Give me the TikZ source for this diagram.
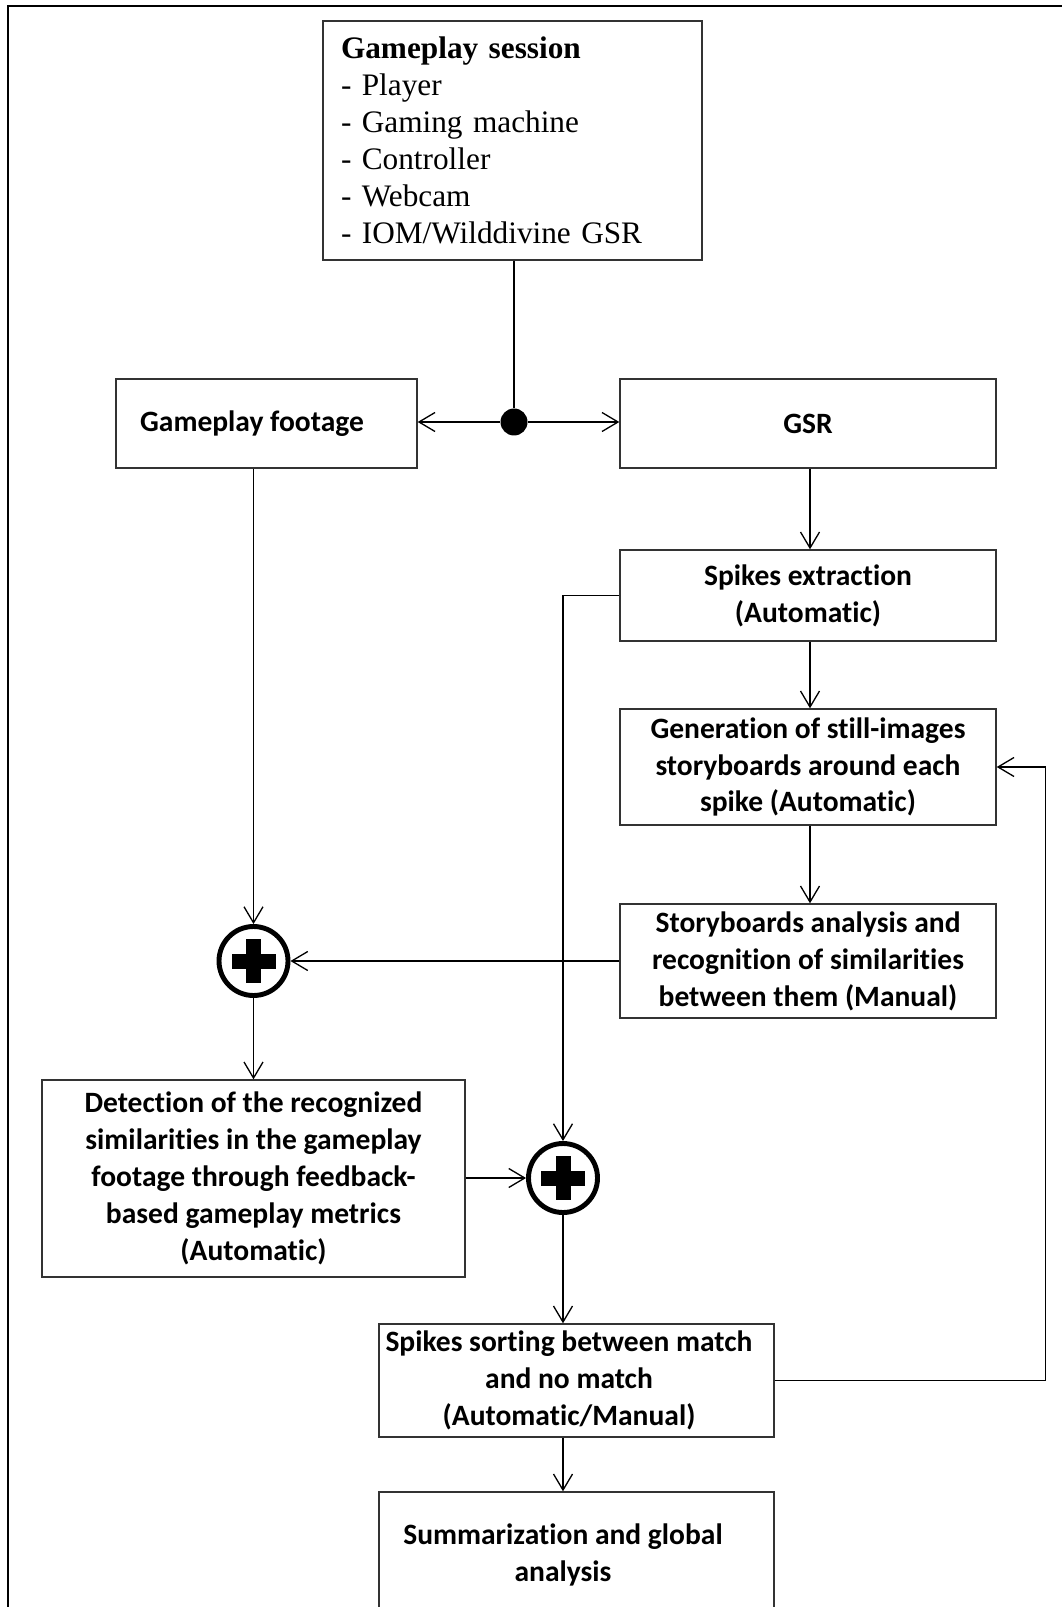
\documentclass[tikz,border=0pt]{standalone}
\usepackage{fontspec}
\setmainfont{Carlito}[Ligatures=NoCommon]
\newfontfamily\serifrm{Liberation Serif}
\usepackage{tikz}
\usetikzlibrary{positioning}
\usetikzlibrary{arrows.meta}

\begin{document}
\begin{tikzpicture}[
	boxnode/.style={rectangle, draw=black!80, line width=0.8pt, fill=white, align=center, inner sep=0pt,
		font=\fontsize{16.8}{21}\selectfont\bfseries},
	textnode/.style={align=center, inner sep=0pt, font=\fontsize{16.8}{21}\selectfont\bfseries},
	plusnode/.style={circle, draw=black, line width=2.8pt, fill=white, minimum size=1.38cm, inner sep=0pt,
		path picture={
			\fill[black] ([shift={(-0.44,-0.15)}]path picture bounding box.center) rectangle ([shift={(0.44,0.15)}]path picture bounding box.center);
			\fill[black] ([shift={(-0.15,-0.44)}]path picture bounding box.center) rectangle ([shift={(0.15,0.44)}]path picture bounding box.center);
		}},
	dotnode/.style={circle, fill=black, minimum size=0.54cm, inner sep=0pt},
	flow/.style={line width=0.75pt, -{Straight Barb[length=3.2mm,width=3.8mm,line width=0.75pt]}},
	]
	\useasboundingbox (0,0) rectangle (21.22,-32.14);
	%Frame
	\draw[line width=1.2pt] (0.16,-34) -- (0.16,-0.12) -- (23,-0.12);
	%Nodes
	\node[rectangle, draw=black!80, line width=0.8pt, align=left, text width=6.86cm, inner xsep=0.36cm, minimum height=4.78cm,
		font=\serifrm\fontsize{17.8}{21}\selectfont] (session) at (10.25,-2.81)
		{{\bfseries Gameplay session}\\- Player\\- Gaming machine\\- Controller\\- Webcam\\- IOM/Wilddivine GSR};
	\node[boxnode, minimum width=6.02cm, minimum height=1.78cm] (footage) at (5.33,-8.47) {Gameplay footage\hspace*{0.58cm}};
	\node[boxnode, minimum width=7.52cm, minimum height=1.78cm] (gsr) at (16.16,-8.47) {GSR};
	\node[dotnode] (split) at (10.28,-8.44) {};
	\node[boxnode, minimum width=7.52cm, minimum height=1.82cm] (spikes) at (16.16,-11.91) {Spikes extraction\\(Automatic)};
	\node[boxnode, minimum width=7.52cm, minimum height=2.32cm] (storyboard) at (16.16,-15.34)
		{Generation of still-images\\storyboards around each\\spike (Automatic)};
	\node[boxnode, minimum width=7.52cm, minimum height=2.28cm] (analysis) at (16.16,-19.22)
		{Storyboards analysis and\\recognition of similarities\\between them (Manual)};
	\node[plusnode] (plus1) at (5.07,-19.22) {};
	\node[boxnode, minimum width=8.46cm, minimum height=3.94cm] (detection) at (5.07,-23.57)
		{Detection of the recognized\\similarities in the gameplay\\footage through feedback-\\based gameplay metrics\\(Automatic)};
	\node[plusnode] (plus2) at (11.26,-23.56) {};
	\node[boxnode, minimum width=7.9cm, minimum height=2.26cm] (sorting) at (11.53,-27.61) {};
	\node[textnode] (sortingtext) at (11.38,-27.61)
		{Spikes sorting between match\\and no match\\(Automatic/Manual)};
	\node[boxnode, minimum width=7.9cm, minimum height=2.5cm] (summary) at (11.53,-31.09) {};
	\node[textnode] (summarytext) at (11.26,-31.09) {Summarization and global\\analysis};

	%Lines
	\draw[line width=0.75pt] (session.south -| split) -- (split);
	\draw[flow] (split) -- (footage.east |- split);
	\draw[flow] (split) -- (gsr.west |- split);
	\draw[flow] (footage.south -| plus1) -- (plus1);
	\draw[flow] (gsr.south -| 16.2,0) -- (spikes.north -| 16.2,0);
	\draw[flow] (spikes.south -| 16.2,0) -- (storyboard.north -| 16.2,0);
	\draw[flow] (storyboard.south -| 16.2,0) -- (analysis.north -| 16.2,0);
	\draw[flow] (analysis.west) -- (plus1);
	\draw[flow] (plus1) -- (detection.north);
	\draw[flow] (detection.east |- plus2) -- (plus2);
	\draw[flow] (spikes.west) -| (plus2);
	\draw[flow] (plus2) -- (sorting.north -| plus2);
	\draw[flow] (sorting.south -| plus2) -- (summary.north -| plus2);
	\draw[flow] (sorting.east) -- ++(5.42,0) |- (storyboard.east);
\end{tikzpicture}
\end{document}
